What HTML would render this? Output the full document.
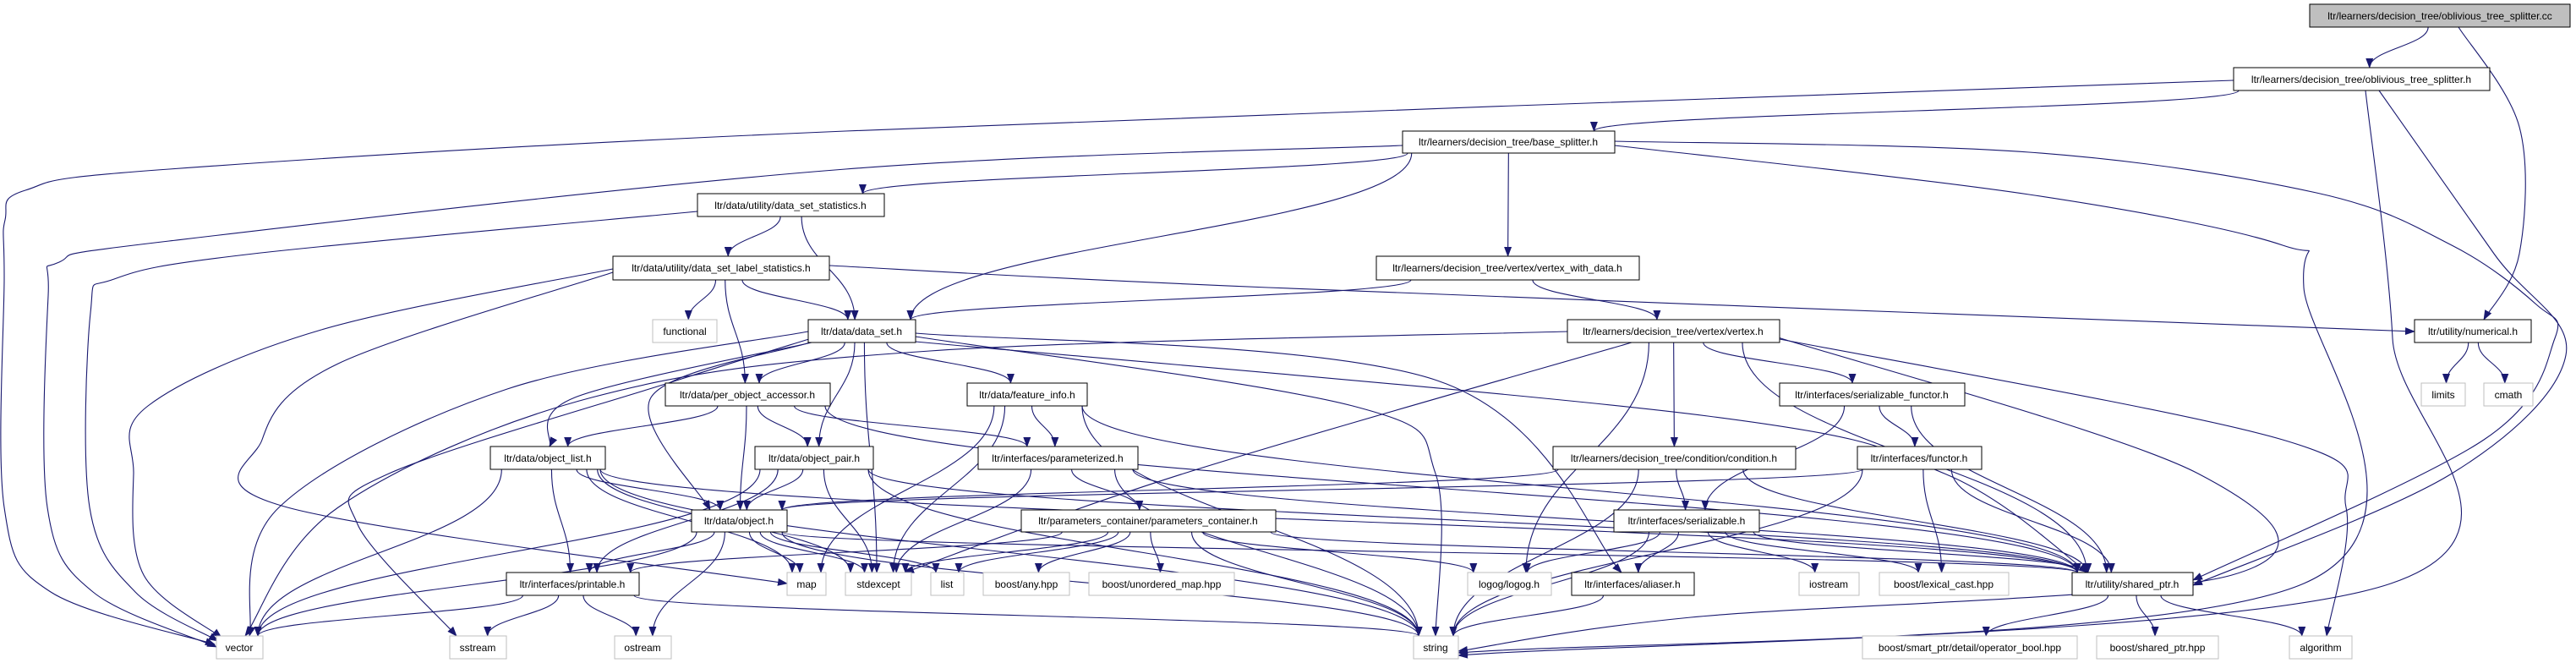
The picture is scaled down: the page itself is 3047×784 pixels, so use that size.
<!DOCTYPE html>
<html><head><meta charset="utf-8"><style>
html,body{margin:0;padding:0;background:#fff;}
svg{display:block;}
text{font-family:"Liberation Sans",sans-serif;font-size:12px;fill:#000;}
</style></head><body>
<svg id="g" width="3047" height="784" viewBox="0 0 3047 784" xmlns="http://www.w3.org/2000/svg">
<defs><marker id="a" markerWidth="12" markerHeight="9" refX="11" refY="4.5" orient="auto" markerUnits="userSpaceOnUse"><path d="M0,0 L12,4.5 L0,9 z" fill="#191970"/></marker></defs>
<g id="edges" fill="none" stroke="#191970" stroke-width="1.1"></g>
<g id="nodes">
<rect x="2732" y="5" width="308" height="27" fill="#bfbfbf" stroke="#000"/><text x="2886" y="23" text-anchor="middle">ltr/learners/decision_tree/oblivious_tree_splitter.cc</text>
<rect x="2642" y="80" width="303" height="27" fill="#fff" stroke="#000"/><text x="2793" y="98" text-anchor="middle">ltr/learners/decision_tree/oblivious_tree_splitter.h</text>
<rect x="1659" y="155" width="251" height="26" fill="#fff" stroke="#000"/><text x="1784" y="172" text-anchor="middle">ltr/learners/decision_tree/base_splitter.h</text>
<rect x="825" y="229" width="221" height="27" fill="#fff" stroke="#000"/><text x="935" y="247" text-anchor="middle">ltr/data/utility/data_set_statistics.h</text>
<rect x="725" y="303" width="256" height="28" fill="#fff" stroke="#000"/><text x="853" y="321" text-anchor="middle">ltr/data/utility/data_set_label_statistics.h</text>
<rect x="772" y="378" width="76" height="27" fill="#fff" stroke="#bfbfbf"/><text x="810" y="396" text-anchor="middle">functional</text>
<rect x="956" y="378" width="127" height="27" fill="#fff" stroke="#000"/><text x="1019" y="396" text-anchor="middle">ltr/data/data_set.h</text>
<rect x="1628" y="303" width="311" height="28" fill="#fff" stroke="#000"/><text x="1783" y="321" text-anchor="middle">ltr/learners/decision_tree/vertex/vertex_with_data.h</text>
<rect x="1854" y="378" width="251" height="27" fill="#fff" stroke="#000"/><text x="1979" y="396" text-anchor="middle">ltr/learners/decision_tree/vertex/vertex.h</text>
<rect x="2856" y="378" width="138" height="27" fill="#fff" stroke="#000"/><text x="2925" y="396" text-anchor="middle">ltr/utility/numerical.h</text>
<rect x="2864" y="453" width="52" height="27" fill="#fff" stroke="#bfbfbf"/><text x="2890" y="471" text-anchor="middle">limits</text>
<rect x="2938" y="453" width="58" height="27" fill="#fff" stroke="#bfbfbf"/><text x="2967" y="471" text-anchor="middle">cmath</text>
<rect x="787" y="453" width="195" height="27" fill="#fff" stroke="#000"/><text x="884" y="471" text-anchor="middle">ltr/data/per_object_accessor.h</text>
<rect x="1144" y="453" width="142" height="27" fill="#fff" stroke="#000"/><text x="1215" y="471" text-anchor="middle">ltr/data/feature_info.h</text>
<rect x="2105" y="453" width="219" height="27" fill="#fff" stroke="#000"/><text x="2214" y="471" text-anchor="middle">ltr/interfaces/serializable_functor.h</text>
<rect x="580" y="528" width="136" height="27" fill="#fff" stroke="#000"/><text x="648" y="546" text-anchor="middle">ltr/data/object_list.h</text>
<rect x="893" y="528" width="140" height="27" fill="#fff" stroke="#000"/><text x="963" y="546" text-anchor="middle">ltr/data/object_pair.h</text>
<rect x="1157" y="528" width="189" height="27" fill="#fff" stroke="#000"/><text x="1251" y="546" text-anchor="middle">ltr/interfaces/parameterized.h</text>
<rect x="1837" y="528" width="287" height="27" fill="#fff" stroke="#000"/><text x="1980" y="546" text-anchor="middle">ltr/learners/decision_tree/condition/condition.h</text>
<rect x="2197" y="528" width="147" height="27" fill="#fff" stroke="#000"/><text x="2270" y="546" text-anchor="middle">ltr/interfaces/functor.h</text>
<rect x="818" y="603" width="113" height="26" fill="#fff" stroke="#000"/><text x="874" y="620" text-anchor="middle">ltr/data/object.h</text>
<rect x="1208" y="603" width="301" height="26" fill="#fff" stroke="#000"/><text x="1358" y="620" text-anchor="middle">ltr/parameters_container/parameters_container.h</text>
<rect x="1909" y="603" width="172" height="26" fill="#fff" stroke="#000"/><text x="1995" y="620" text-anchor="middle">ltr/interfaces/serializable.h</text>
<rect x="599" y="677" width="157" height="27" fill="#fff" stroke="#000"/><text x="677" y="695" text-anchor="middle">ltr/interfaces/printable.h</text>
<rect x="931" y="677" width="46" height="27" fill="#fff" stroke="#bfbfbf"/><text x="954" y="695" text-anchor="middle">map</text>
<rect x="1000" y="677" width="78" height="27" fill="#fff" stroke="#bfbfbf"/><text x="1039" y="695" text-anchor="middle">stdexcept</text>
<rect x="1101" y="677" width="39" height="27" fill="#fff" stroke="#bfbfbf"/><text x="1120" y="695" text-anchor="middle">list</text>
<rect x="1163" y="677" width="102" height="27" fill="#fff" stroke="#bfbfbf"/><text x="1214" y="695" text-anchor="middle">boost/any.hpp</text>
<rect x="1288" y="677" width="172" height="27" fill="#fff" stroke="#bfbfbf"/><text x="1374" y="695" text-anchor="middle">boost/unordered_map.hpp</text>
<rect x="1736" y="677" width="99" height="27" fill="#fff" stroke="#bfbfbf"/><text x="1785" y="695" text-anchor="middle">logog/logog.h</text>
<rect x="1859" y="677" width="145" height="27" fill="#fff" stroke="#000"/><text x="1931" y="695" text-anchor="middle">ltr/interfaces/aliaser.h</text>
<rect x="2128" y="677" width="71" height="27" fill="#fff" stroke="#bfbfbf"/><text x="2163" y="695" text-anchor="middle">iostream</text>
<rect x="2223" y="677" width="153" height="27" fill="#fff" stroke="#bfbfbf"/><text x="2299" y="695" text-anchor="middle">boost/lexical_cast.hpp</text>
<rect x="2451" y="677" width="143" height="27" fill="#fff" stroke="#000"/><text x="2522" y="695" text-anchor="middle">ltr/utility/shared_ptr.h</text>
<rect x="256" y="752" width="55" height="27" fill="#fff" stroke="#bfbfbf"/><text x="283" y="770" text-anchor="middle">vector</text>
<rect x="532" y="752" width="67" height="27" fill="#fff" stroke="#bfbfbf"/><text x="565" y="770" text-anchor="middle">sstream</text>
<rect x="727" y="752" width="67" height="27" fill="#fff" stroke="#bfbfbf"/><text x="760" y="770" text-anchor="middle">ostream</text>
<rect x="1672" y="752" width="53" height="27" fill="#fff" stroke="#bfbfbf"/><text x="1698" y="770" text-anchor="middle">string</text>
<rect x="2203" y="752" width="254" height="27" fill="#fff" stroke="#bfbfbf"/><text x="2330" y="770" text-anchor="middle">boost/smart_ptr/detail/operator_bool.hpp</text>
<rect x="2480" y="752" width="144" height="27" fill="#fff" stroke="#bfbfbf"/><text x="2552" y="770" text-anchor="middle">boost/shared_ptr.hpp</text>
<rect x="2708" y="752" width="74" height="27" fill="#fff" stroke="#bfbfbf"/><text x="2745" y="770" text-anchor="middle">algorithm</text>
</g>
</svg>
<script>
var N={cc:[2732,5,3040,32],ots:[2642,80,2945,107],bs:[1659,155,1910,181],dss:[825,229,1046,256],dsl:[725,303,981,331],fun:[772,378,848,405],ds:[956,378,1083,405],vwd:[1628,303,1939,331],vx:[1854,378,2105,405],num:[2856,378,2994,405],lim:[2864,453,2916,480],cm:[2938,453,2996,480],poa:[787,453,982,480],fi:[1144,453,1286,480],sf:[2105,453,2324,480],ol:[580,528,716,555],op:[893,528,1033,555],pz:[1157,528,1346,555],cond:[1837,528,2124,555],fn:[2197,528,2344,555],obj:[818,603,931,629],pc:[1208,603,1509,629],ser:[1909,603,2081,629],pr:[599,677,756,704],map:[931,677,977,704],se:[1000,677,1078,704],list:[1101,677,1140,704],any:[1163,677,1265,704],um:[1288,677,1460,704],lg:[1736,677,1835,704],al:[1859,677,2004,704],ios:[2128,677,2199,704],lc:[2223,677,2376,704],sp:[2451,677,2594,704],vec:[256,752,311,779],ss:[532,752,599,779],os:[727,752,794,779],str:[1672,752,1725,779],ob:[2203,752,2457,779],bsp:[2480,752,2624,779],alg:[2708,752,2782,779]};
var W=[
[[2908,32],[2980,150],[2980,300],[2938,378]],
[[2642,95],[1000,155],[200,200],[30,225],[6,260],[5,330],[5,600],[60,700],[254,762]],
[[1659,172],[1000,200],[200,285],[70,310],[57,350],[56,600],[110,700],[256,765]],
[[825,250],[300,300],[135,330],[107,370],[106,600],[160,700],[258,758]],
[[725,318],[380,390],[175,480],[158,560],[170,680],[262,754]],
[[725,322],[400,430],[310,520],[340,600],[931,690]],
[[2798,107],[2830,400],[2828,690],[1725,775]],
[[2814,107],[2950,300],[3035,420],[2900,560],[2594,692]],
[[1910,167],[2400,180],[2740,228],[2900,290],[3000,360],[3022,400],[2938,520],[2594,686]],
[[1910,172],[2400,230],[2700,290],[2725,340],[2725,690],[1725,772]],
[[981,314],[1500,340],[2856,392]],
[[1083,394],[1700,450],[1918,677]],
[[1083,398],[1600,480],[1698,560],[1698,752]],
[[1083,404],[2020,492],[2300,560],[2470,677]],
[[956,392],[600,460],[330,600],[295,752]],
[[960,400],[800,450],[460,560],[423,620],[540,752]],
[[958,405],[770,470],[840,603]],
[[960,405],[680,470],[650,528]],
[[1854,392],[1100,415],[700,470],[400,600],[290,752]],
[[1930,405],[1400,560],[1070,677]],
[[2100,400],[2700,520],[2775,600],[2752,752]],
[[2100,398],[2600,560],[2640,680],[2000,730],[1725,770]]
];
var E="cc ots,ots bs,bs dss,bs ds,bs vwd,dss dsl,dss ds,dsl fun,dsl ds,dsl poa,ds poa,ds op,ds fi,ds se,vwd ds,vwd vx,vx lg,vx sf,vx cond,vx sp,num lim,num cm,poa ol,poa op,poa obj,poa pz,poa sp,fi pz,fi se,fi map,fi str,fi sp,sf fn,sf ser,sf sp,ol obj,ol pr,ol vec,ol map,ol se,ol str,ol sp,op obj,op pr,op vec,op se,op str,op sp,pz pc,pz se,pz str,pz sp,cond ser,cond obj,cond str,cond sp,fn obj,fn lc,fn str,fn sp,obj pr,obj map,obj se,obj vec,obj os,obj str,obj sp,obj list,pc se,pc list,pc any,pc um,pc str,pc lg,pc sp,pc pr,ser lg,ser al,ser ios,ser lc,ser str,ser sp,pr ss,pr os,pr vec,pr str,al str,sp ob,sp bsp,sp alg".split(",");
var g=document.getElementById("edges"),out="";
function cr(p){var d="M"+p[0][0]+","+p[0][1];for(var i=0;i<p.length-1;i++){var p0=p[i-1]||p[i],p1=p[i],p2=p[i+1],p3=p[i+2]||p2;d+=" C"+(p1[0]+(p2[0]-p0[0])/6)+","+(p1[1]+(p2[1]-p0[1])/6)+" "+(p2[0]-(p3[0]-p1[0])/6)+","+(p2[1]-(p3[1]-p1[1])/6)+" "+p2[0]+","+p2[1];}return d;}
W.forEach(function(p){out+='<path d="'+cr(p)+'" marker-end="url(#a)"/>';});
E.forEach(function(e){var s=e.split(" "),A=N[s[0]],B=N[s[1]];var acx=(A[0]+A[2])/2,bcx=(B[0]+B[2])/2;
var sx=Math.max(A[0]+6,Math.min(A[2]-6,acx+(bcx-acx)*0.15)),sy=A[3];
var tx=Math.max(B[0]+6,Math.min(B[2]-6,bcx+(acx-bcx)*0.1)),ty=B[1];var dy=ty-sy;
out+='<path d="M'+sx+','+sy+' C'+sx+','+(sy+dy*0.45)+' '+tx+','+(ty-dy*0.45)+' '+tx+','+ty+'" marker-end="url(#a)"/>';});
g.innerHTML=out;
</script>
</body></html>
